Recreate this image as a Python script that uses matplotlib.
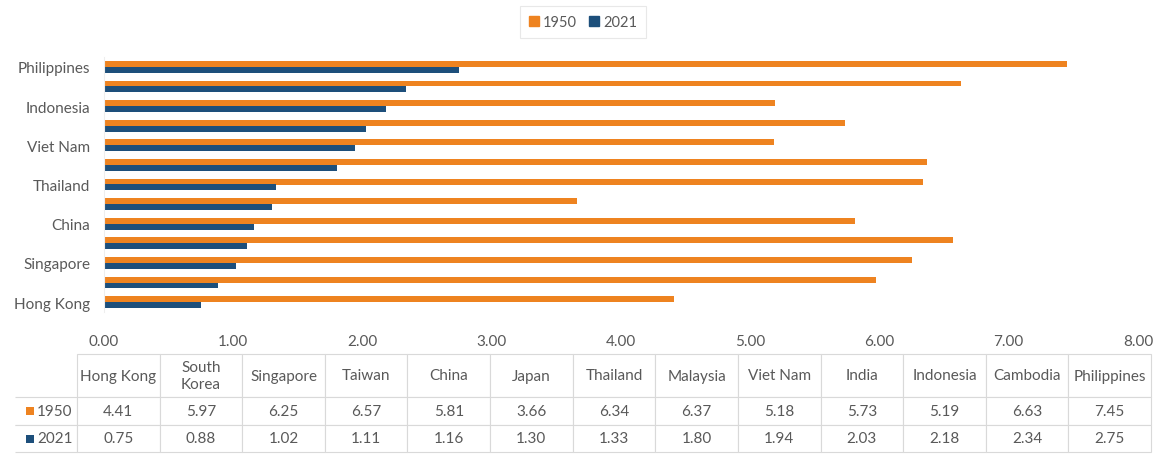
import matplotlib
matplotlib.use("Agg")
import matplotlib.pyplot as plt
from matplotlib.patches import Patch, Rectangle
import numpy as np

plt.rcParams['font.family'] = ['Lato', 'DejaVu Sans']

categories = ["Hong Kong", "South Korea", "Singapore", "Taiwan", "China", "Japan",
              "Thailand", "Malaysia", "Viet Nam", "India", "Indonesia", "Cambodia",
              "Philippines"]
header_labels = ["Hong Kong", "South\nKorea", "Singapore", "Taiwan", "China", "Japan",
                 "Thailand", "Malaysia", "Viet Nam", "India", "Indonesia", "Cambodia",
                 "Philippines"]
series_names = ["1950", "2021"]
values_1950 = [4.41, 5.97, 6.25, 6.57, 5.81, 3.66, 6.34, 6.37, 5.18, 5.73, 5.19, 6.63, 7.45]
values_2021 = [0.75, 0.88, 1.02, 1.11, 1.16, 1.30, 1.33, 1.80, 1.94, 2.03, 2.18, 2.34, 2.75]
x_ticks = [0, 1, 2, 3, 4, 5, 6, 7, 8]

ORANGE = "#EE8320"
BLUE = "#1D4F7B"
TEXT = "#595959"
GRID = "#D9D9D9"
FS = 11

W, H = 1159, 456
fig = plt.figure(figsize=(W / 100, H / 100), dpi=100)

ax = fig.add_axes([104 / W, 1 - 313 / H, (1138 - 104) / W, (313 - 58) / H])
y = np.arange(len(categories))
bh = 0.3
ax.barh(y + bh / 2, values_1950, height=bh, color=ORANGE, label=series_names[0])
ax.barh(y - bh / 2, values_2021, height=bh, color=BLUE, label=series_names[1])
ax.set_xlim(0, 8)
ax.set_ylim(-0.5, len(categories) - 0.5)
ax.set_xticks(x_ticks)
ax.set_xticklabels([f"{t:.2f}" for t in x_ticks], color=TEXT, fontsize=FS)
ax.set_yticks(y[::2])
ax.set_yticklabels(categories[::2], color=TEXT, fontsize=FS)
ax.tick_params(length=0, pad=10)
ax.tick_params(axis='x', pad=16)
for s in ["top", "right", "bottom"]:
    ax.spines[s].set_visible(False)
ax.spines["left"].set_color("#EEEEEE")
ax.spines["left"].set_linewidth(0.8)

handles = [Patch(color=ORANGE), Patch(color=BLUE)]
leg = fig.legend(handles, series_names, loc="center", bbox_to_anchor=(583 / W, 1 - 23 / H),
                 ncol=2, frameon=True, fancybox=False, fontsize=10.5, handlelength=0.7,
                 handleheight=0.7, handletextpad=0.3, columnspacing=0.8,
                 borderpad=0.6, labelcolor=TEXT)
leg.get_frame().set_edgecolor("#E3E3E3")
leg.get_frame().set_linewidth(0.8)

# data table
tax = fig.add_axes([15 / W, 1 - 453 / H, (1151 - 15) / W, (453 - 355) / H])
tax.axis("off")
cell_text = [[""] + header_labels,
             [""] + [f"{v:.2f}" for v in values_1950],
             [""] + [f"{v:.2f}" for v in values_2021]]
col_w = [62] + [82.6] * len(categories)
tbl = tax.table(cellText=cell_text, colWidths=[c / sum(col_w) for c in col_w],
                cellLoc="center", bbox=[0, 0, 1, 1])
tbl.auto_set_font_size(False)
row_h = [43, 28, 27]
for (r, c), cell in tbl.get_celld().items():
    cell.set_height(row_h[r])
    cell.set_edgecolor(GRID)
    cell.set_linewidth(0.8)
    cell.get_text().set_color(TEXT)
    cell.get_text().set_fontsize(FS)
    if c == 0:
        cell.visible_edges = "" if r == 0 else "BRT"

# row labels with coloured squares
for i, (name, col) in enumerate(zip(series_names, [ORANGE, BLUE])):
    yc = 412 + i * 27.5
    fig.add_artist(Rectangle((26 / W, 1 - (yc + 4) / H), 8 / W, 8 / H,
                             transform=fig.transFigure, color=col, lw=0))
    fig.text(37 / W, 1 - yc / H, name, color=TEXT, fontsize=FS, va="center", ha="left")

fig.savefig("out.png", dpi=100)
